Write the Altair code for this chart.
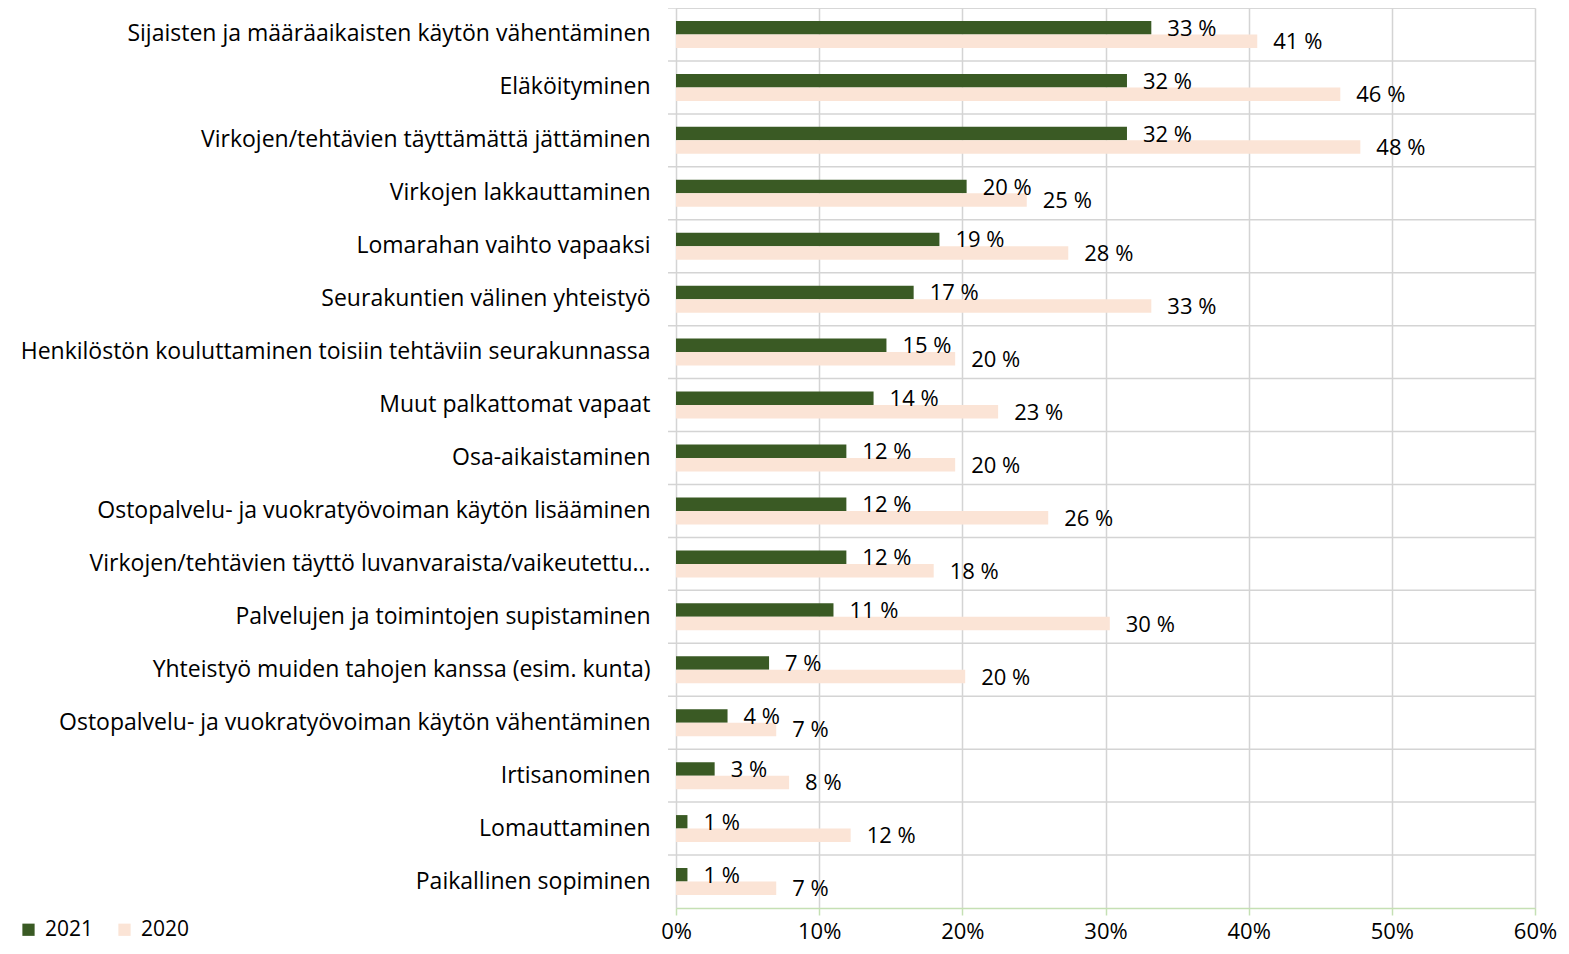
import altair as alt
import pandas as pd

categories = [
    "Sijaisten ja määräaikaisten käytön vähentäminen",
    "Eläköityminen",
    "Virkojen/tehtävien täyttämättä jättäminen",
    "Virkojen lakkauttaminen",
    "Lomarahan vaihto vapaaksi",
    "Seurakuntien välinen yhteistyö",
    "Henkilöstön kouluttaminen toisiin tehtäviin seurakunnassa",
    "Muut palkattomat vapaat",
    "Osa-aikaistaminen",
    "Ostopalvelu- ja vuokratyövoiman käytön lisääminen",
    "Virkojen/tehtävien täyttö luvanvaraista/vaikeutettu…",
    "Palvelujen ja toimintojen supistaminen",
    "Yhteistyö muiden tahojen kanssa (esim. kunta)",
    "Ostopalvelu- ja vuokratyövoiman käytön vähentäminen",
    "Irtisanominen",
    "Lomauttaminen",
    "Paikallinen sopiminen",
]
values_2021 = [33.2, 31.5, 31.5, 20.3, 18.4, 16.6, 14.7, 13.8, 11.9, 11.9, 11.9, 11.0, 6.5, 3.6, 2.7, 0.8, 0.8]
values_2020 = [40.6, 46.4, 47.8, 24.5, 27.4, 33.2, 19.5, 22.5, 19.5, 26.0, 18.0, 30.3, 20.2, 7.0, 7.9, 12.2, 7.0]
labels_2021 = ["33 %", "32 %", "32 %", "20 %", "19 %", "17 %", "15 %", "14 %", "12 %", "12 %", "12 %", "11 %", "7 %", "4 %", "3 %", "1 %", "1 %"]
labels_2020 = ["41 %", "46 %", "48 %", "25 %", "28 %", "33 %", "20 %", "23 %", "20 %", "26 %", "18 %", "30 %", "20 %", "7 %", "8 %", "12 %", "7 %"]
series = ["2021", "2020"]
colors = ["#3a5a24", "#fbe4d6"]

rows = []
for i, c in enumerate(categories):
    rows.append({"cat": c, "year": "2021", "v": values_2021[i], "lab": labels_2021[i]})
    rows.append({"cat": c, "year": "2020", "v": values_2020[i], "lab": labels_2020[i]})
df = pd.DataFrame(rows)
sep = pd.DataFrame({"cat": categories})

FONT = "Open Sans"
W, H = 859, 900

y_enc = alt.Y("cat:N", sort=categories, title=None,
              scale=alt.Scale(paddingInner=0, paddingOuter=0),
              axis=alt.Axis(domain=False, ticks=False, grid=False, labelFontSize=23,
                            labelFont=FONT, labelColor="#000000", labelPadding=26,
                            labelLimit=700))
x_enc = alt.X("v:Q", title=None,
              scale=alt.Scale(domain=[0, 60], nice=False),
              axis=alt.Axis(values=[0, 10, 20, 30, 40, 50, 60], labelExpr="datum.value + '%'",
                            grid=True, gridColor="#d4d4d4", gridWidth=1.5,
                            domainColor="#c5e0b4", domainWidth=1.5,
                            tickColor="#c5e0b4", tickSize=7, tickWidth=1.5,
                            labelFontSize=22, labelFont=FONT, labelColor="#000000",
                            labelPadding=6, labelFlush=False))
yoff = alt.YOffset("year:N", sort=series, scale=alt.Scale(domain=series, paddingInner=0, paddingOuter=0.96))

bars = alt.Chart(df).mark_bar(size=13.5).encode(
    y=y_enc,
    x=x_enc,
    yOffset=yoff,
    color=alt.Color("year:N", sort=series,
                    scale=alt.Scale(domain=series, range=colors),
                    legend=alt.Legend(title=None, orient="none", legendX=-658, legendY=911,
                                      direction="horizontal", symbolType="square",
                                      symbolSize=150, symbolStrokeWidth=0,
                                      labelFontSize=21, labelFont=FONT, labelColor="#000000",
                                      labelOffset=6, columnPadding=20)),
)

text = alt.Chart(df).mark_text(align="left", baseline="middle", dx=16, dy=1,
                               fontSize=22, font=FONT, color="#000000").encode(
    y=alt.Y("cat:N", sort=categories),
    x=alt.X("v:Q"),
    yOffset=yoff,
    text="lab:N",
)

rules = alt.Chart(sep).mark_rule(color="#d4d4d4", strokeWidth=1.5).encode(
    y=alt.Y("cat:N", sort=categories, bandPosition=0),
    x=alt.value(-8),
    x2=alt.value(W),
)

chart = alt.layer(rules, bars, text).properties(
    width=W, height=H,
    autosize=alt.AutoSizeParams(type="none"),
    padding={"left": 668, "top": 0, "right": 24, "bottom": 38},
).configure_view(stroke=None).configure(background="#ffffff")

chart.save("out.html", embed_options={"renderer": "svg", "actions": False})
